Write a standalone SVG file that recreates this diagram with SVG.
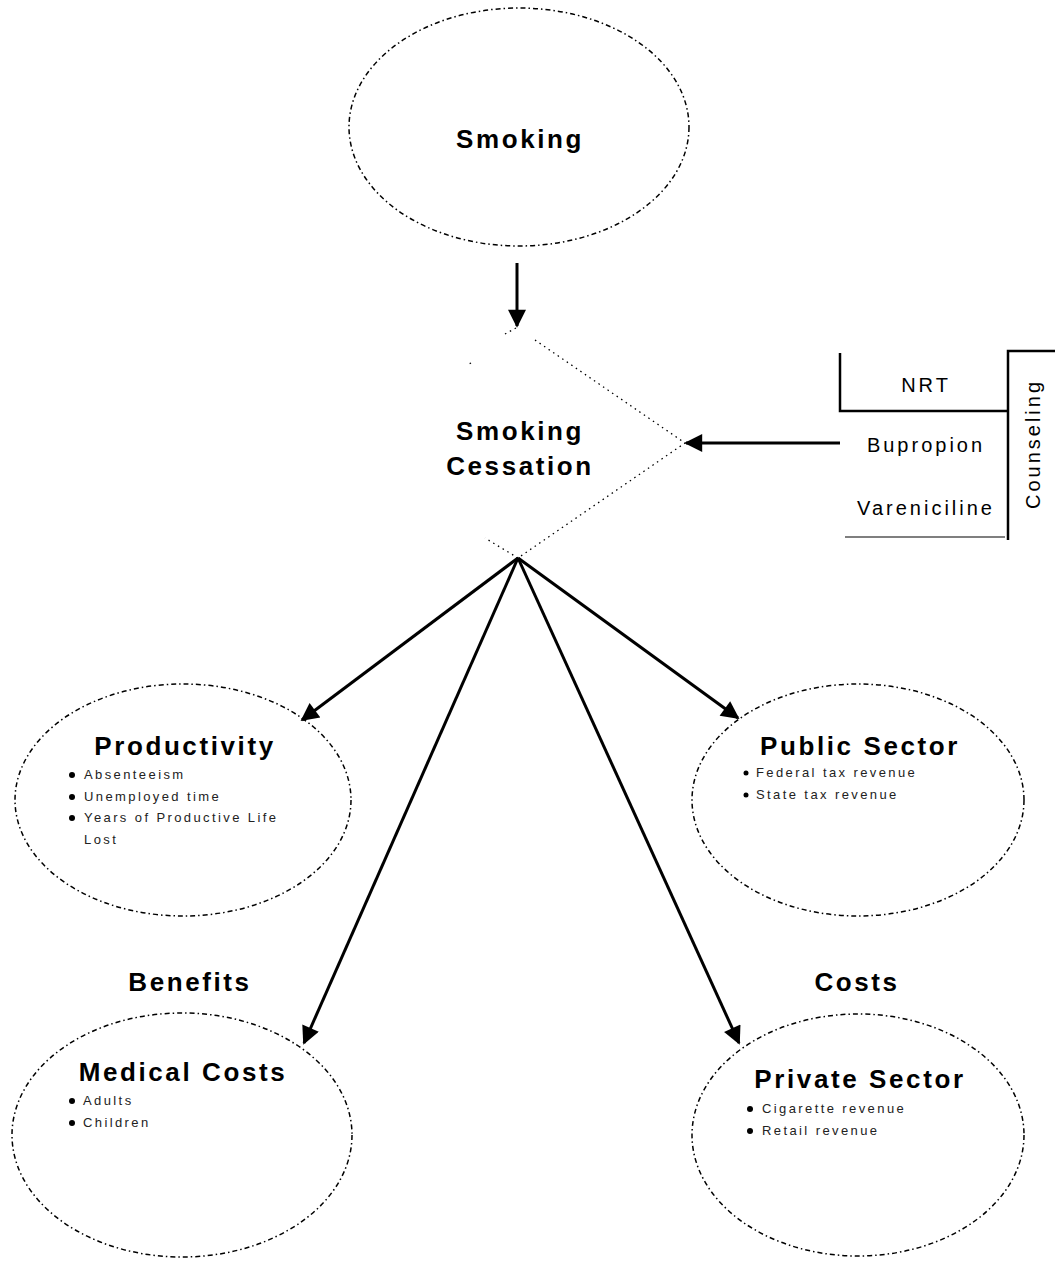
<svg xmlns="http://www.w3.org/2000/svg" width="1055" height="1262" viewBox="0 0 1055 1262">
<style>
.ell{fill:none;stroke:#000;stroke-width:1.5;stroke-dasharray:5,3,1.5,3}
.dot{fill:none;stroke:#000;stroke-width:1.3;stroke-dasharray:1.5,4}
.con{fill:none;stroke:#000;stroke-width:3}
.title{font-family:"Liberation Sans",Arial,sans-serif;font-weight:bold;font-size:26px;letter-spacing:2.6px;text-anchor:middle;fill:#000}
.sm{font-family:"Liberation Sans",Arial,sans-serif;font-size:13px;letter-spacing:2.4px;fill:#222}
.lab{font-family:"Liberation Sans",Arial,sans-serif;font-size:20px;letter-spacing:3px;text-anchor:middle;fill:#000}
</style>
<defs>
<marker id="ah" viewBox="0 0 10 10" refX="9" refY="5" markerWidth="7" markerHeight="6" orient="auto" markerUnits="strokeWidth">
<path d="M0,0 L10,5 L0,10 z" fill="#000"/>
</marker>
</defs>
<rect width="1055" height="1262" fill="#fff"/>

<g id="smoking">
<ellipse class="ell" cx="519" cy="127" rx="170" ry="119"/>
<text class="title" x="520" y="148">Smoking</text>
</g>

<g id="cessation">
<path class="dot" d="M505,334 L516,328 M535,340 L685,443 L518,558 M518,558 L485,538 M471,363 L469,364"/>
<text class="title" x="520" y="440">Smoking</text>
<text class="title" x="520" y="475">Cessation</text>
</g>

<g id="treatments">
<path d="M840,353 L840,411 L1008,411" fill="none" stroke="#000" stroke-width="2.5"/>
<path d="M845,537 L1005,537" fill="none" stroke="#555" stroke-width="1.5"/>
<text class="lab" x="926" y="392">NRT</text>
<text class="lab" x="926" y="452">Bupropion</text>
<text class="lab" x="926" y="515">Vareniciline</text>
</g>

<g id="counseling">
<path d="M1055,351 L1008,351 L1008,540" fill="none" stroke="#000" stroke-width="2.5"/>
<text class="lab" x="0" y="0" transform="translate(1040,444) rotate(-90)">Counseling</text>
</g>

<g id="productivity">
<ellipse class="ell" cx="183" cy="800" rx="168" ry="116"/>
<text class="title" x="185" y="755">Productivity</text>
<circle cx="72" cy="775" r="3"/><text class="sm" x="84" y="779">Absenteeism</text>
<circle cx="72" cy="797" r="3"/><text class="sm" x="84" y="801">Unemployed time</text>
<circle cx="72" cy="818" r="3"/><text class="sm" x="84" y="822">Years of Productive Life</text>
<text class="sm" x="84" y="844">Lost</text>
</g>

<g id="public">
<ellipse class="ell" cx="858" cy="800" rx="166" ry="116"/>
<text class="title" x="860" y="755">Public Sector</text>
<circle cx="746" cy="773" r="2.5"/><text class="sm" x="756" y="777">Federal tax revenue</text>
<circle cx="746" cy="795" r="2.5"/><text class="sm" x="756" y="799">State tax revenue</text>
</g>

<g id="medical">
<ellipse class="ell" cx="182" cy="1135" rx="170" ry="122"/>
<text class="title" x="183" y="1081">Medical Costs</text>
<circle cx="72" cy="1101" r="3"/><text class="sm" x="83" y="1105">Adults</text>
<circle cx="72" cy="1123" r="3"/><text class="sm" x="83" y="1127">Children</text>
</g>

<g id="private">
<ellipse class="ell" cx="858" cy="1135" rx="166" ry="121"/>
<text class="title" x="860" y="1088">Private Sector</text>
<circle cx="750" cy="1109" r="3"/><text class="sm" x="762" y="1113">Cigarette revenue</text>
<circle cx="750" cy="1131" r="3"/><text class="sm" x="762" y="1135">Retail revenue</text>
</g>

<g id="labels">
<text class="title" x="190" y="991">Benefits</text>
<text class="title" x="857" y="991">Costs</text>
</g>

<g id="connectors">
<line class="con" x1="517" y1="263" x2="517" y2="326" marker-end="url(#ah)"/>
<line class="con" x1="840" y1="443" x2="686" y2="443" marker-end="url(#ah)"/>
<line class="con" x1="518" y1="558" x2="302" y2="720" marker-end="url(#ah)"/>
<line class="con" x1="518" y1="558" x2="304" y2="1043" marker-end="url(#ah)"/>
<line class="con" x1="518" y1="558" x2="738" y2="718" marker-end="url(#ah)"/>
<line class="con" x1="518" y1="558" x2="739" y2="1043" marker-end="url(#ah)"/>
</g>
</svg>
